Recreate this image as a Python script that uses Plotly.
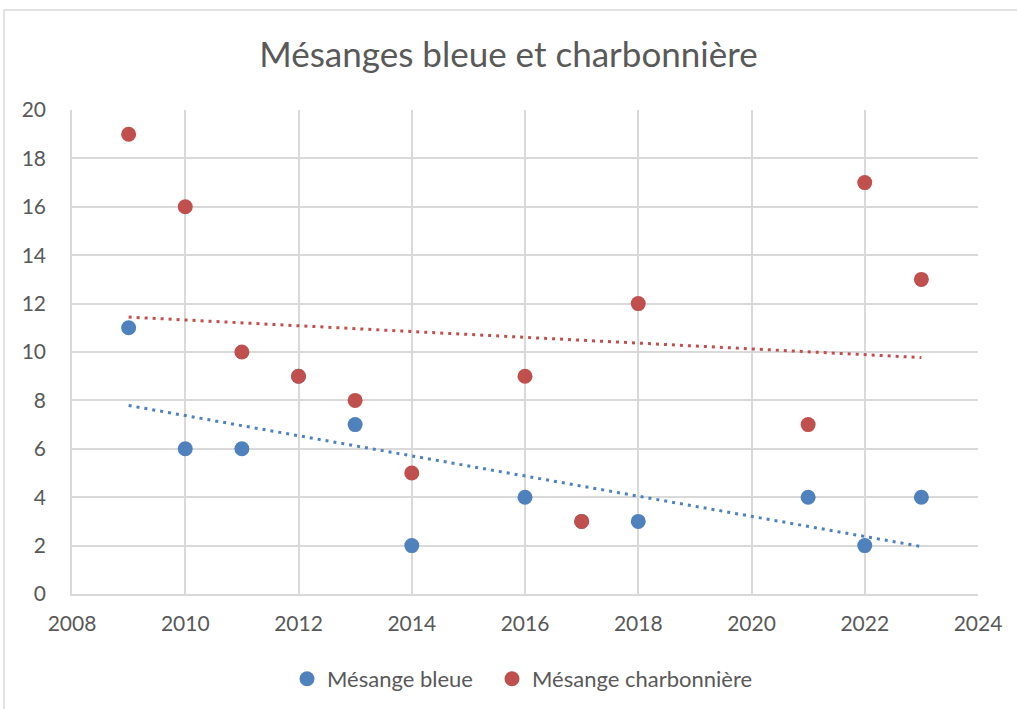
import numpy as np
import plotly.graph_objects as go

years = [2009, 2010, 2011, 2012, 2013, 2014, 2016, 2017, 2018, 2021, 2022, 2023]
bleue = [11, 6, 6, 9, 7, 2, 4, 3, 3, 4, 2, 4]
charbonniere = [19, 16, 10, 9, 8, 5, 9, 3, 12, 7, 17, 13]

BLUE = "#4F81BD"
RED = "#C0504D"
TXT = "#595959"
FONT = "Lato, Open Sans, sans-serif"
W, H = 1017, 709

fig = go.Figure()
for vals, col in [(bleue, BLUE), (charbonniere, RED)]:
    a, b = np.polyfit(years, vals, 1)
    xs = [years[0], years[-1]]
    fig.add_trace(go.Scatter(x=xs, y=[a * x + b for x in xs], mode="lines", showlegend=False,
                             line=dict(color=col, width=3, dash="3px,5px"), hoverinfo="skip"))
for name, vals, col, lg in [("Mésange bleue", bleue, BLUE, "legend"),
                            ("Mésange charbonnière", charbonniere, RED, "legend2")]:
    fig.add_trace(go.Scatter(x=years, y=vals, mode="markers", name=name, legend=lg,
                             marker=dict(color=col, size=15, line=dict(width=0))))

leg_common = dict(orientation="h", xanchor="left", xref="container",
                  y=1 - 679 / H, yref="container", yanchor="middle",
                  font=dict(size=22, color=TXT), bgcolor="rgba(0,0,0,0)")

fig.update_layout(
    width=W, height=H,
    margin=dict(l=72, r=39, t=110, b=115),
    paper_bgcolor="white", plot_bgcolor="white",
    font=dict(family=FONT, color=TXT, size=21),
    title=dict(text="Mésanges bleue et charbonnière", x=0.5, xanchor="center",
               y=1 - 55 / H, yanchor="middle", font=dict(size=35, color=TXT, family=FONT)),
    xaxis=dict(range=[2008, 2024], dtick=2, tick0=2008, showgrid=True, gridcolor="#D9D9D9", gridwidth=1.5,
               zeroline=False, showline=True, linecolor="#D9D9D9", linewidth=1.5,
               ticks="", ticklabelstandoff=10, tickfont=dict(size=21, color=TXT)),
    yaxis=dict(range=[0, 20], dtick=2, tick0=0, showgrid=True, gridcolor="#D9D9D9", gridwidth=1.5,
               zeroline=False, showline=True, linecolor="#D9D9D9", linewidth=1.5,
               ticks="", ticklabelstandoff=20, tickfont=dict(size=21, color=TXT)),
    legend=dict(x=287 / W, **leg_common),
    legend2=dict(x=492 / W, **leg_common),
    showlegend=True,
)
fig.add_shape(type="rect", xref="paper", yref="paper",
              x0=(4 - 72) / 906, x1=(1030 - 72) / 906, y0=(594 - 720) / 484, y1=(594 - 10) / 484,
              line=dict(color="#D9D9D9", width=1.5), fillcolor="rgba(0,0,0,0)", layer="below")

fig.write_html("out.html", config={"displayModeBar": False},
               post_script="document.body.style.margin='0';document.body.style.padding='0';")
